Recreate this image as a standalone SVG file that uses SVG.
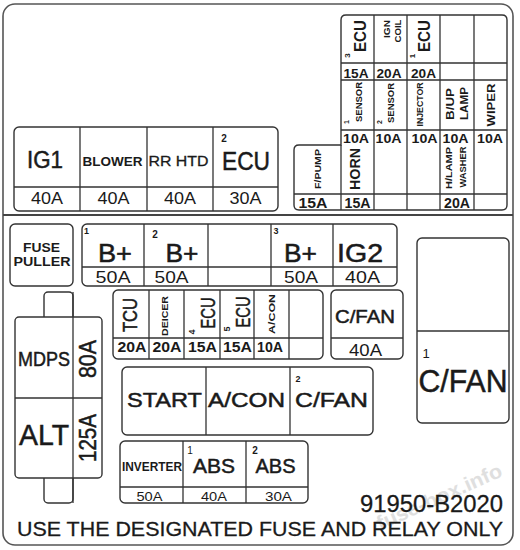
<svg xmlns="http://www.w3.org/2000/svg" width="520" height="550" viewBox="0 0 520 550">
<style>
.box{fill:#fff;stroke:#333;stroke-width:1.4}
.ln{fill:none;stroke:#333;stroke-width:1.3}
text{font-family:"Liberation Sans",Arial,sans-serif;fill:#1a1a1a}
.c{text-anchor:middle}
.b{font-weight:bold}
.h{stroke:#1a1a1a;stroke-width:0.5}
</style>
<rect x="0" y="0" width="520" height="550" fill="#fff"/>
<rect x="3" y="4" width="510" height="541" rx="12" fill="#fff" stroke="#555" stroke-width="1.6"/>
<line x1="3" y1="215" x2="513" y2="215" stroke="#444" stroke-width="2"/>

<g id="connectors"></g>

<g id="block-top-right">
<path class="box" d="M346,15 H502 Q507,15 507,20 V205 Q507,210 502,210 H299 Q294,210 294,205 V150 Q294,145 299,145 H341 V20 Q341,15 346,15 Z"/>
<path class="ln" d="M374,15V210M407,15V210M440,15V210M474,15V210M341,145V210M341,63H507M341,80H507M341,130H507M294,194H507"/>
<text class="c b" font-size="16" textLength="32" lengthAdjust="spacingAndGlyphs" transform="translate(366,36) rotate(-90)">ECU</text>
<text class="c b" font-size="8" transform="translate(350,55.5) rotate(-90)">3</text>
<text class="c b" font-size="9" textLength="18" lengthAdjust="spacingAndGlyphs" transform="translate(390,29) rotate(-90)">IGN</text>
<text class="c b" font-size="9" textLength="23" lengthAdjust="spacingAndGlyphs" transform="translate(401,31) rotate(-90)">COIL</text>
<text class="c b" font-size="16" textLength="32" lengthAdjust="spacingAndGlyphs" transform="translate(430,36) rotate(-90)">ECU</text>
<text class="c b" font-size="8" transform="translate(415,56) rotate(-90)">1</text>
<text class="c b" font-size="13.5" textLength="25" lengthAdjust="spacingAndGlyphs" x="356" y="78">15A</text>
<text class="c b" font-size="13.5" textLength="25" lengthAdjust="spacingAndGlyphs" x="389" y="78">20A</text>
<text class="c b" font-size="13.5" textLength="25" lengthAdjust="spacingAndGlyphs" x="423.5" y="78">20A</text>
<text class="c b" font-size="9" textLength="40" lengthAdjust="spacingAndGlyphs" transform="translate(362,102) rotate(-90)">SENSOR</text>
<text class="c b" font-size="7" transform="translate(349,122) rotate(-90)">1</text>
<text class="c b" font-size="9" textLength="40" lengthAdjust="spacingAndGlyphs" transform="translate(394,103) rotate(-90)">SENSOR</text>
<text class="c b" font-size="7" transform="translate(382,122) rotate(-90)">2</text>
<text class="c b" font-size="8.5" textLength="44" lengthAdjust="spacingAndGlyphs" transform="translate(423,104.5) rotate(-90)">INJECTOR</text>
<text class="c b" font-size="10" textLength="32" lengthAdjust="spacingAndGlyphs" transform="translate(454,104) rotate(-90)">B/UP</text>
<text class="c b" font-size="10" textLength="33" lengthAdjust="spacingAndGlyphs" transform="translate(468,103.5) rotate(-90)">LAMP</text>
<text class="c b" font-size="11" textLength="43" lengthAdjust="spacingAndGlyphs" transform="translate(495,105) rotate(-90)">WIPER</text>
<text class="c b" font-size="13.5" textLength="26" lengthAdjust="spacingAndGlyphs" x="356" y="142.5">10A</text>
<text class="c b" font-size="13.5" textLength="26" lengthAdjust="spacingAndGlyphs" x="388.5" y="142.5">10A</text>
<text class="c b" font-size="13.5" textLength="26" lengthAdjust="spacingAndGlyphs" x="424.5" y="142.5">10A</text>
<text class="c b" font-size="13.5" textLength="26" lengthAdjust="spacingAndGlyphs" x="455.5" y="142.5">10A</text>
<text class="c b" font-size="13.5" textLength="26" lengthAdjust="spacingAndGlyphs" x="490" y="142.5">10A</text>
<text class="c b" font-size="9" textLength="40" lengthAdjust="spacingAndGlyphs" transform="translate(321,169) rotate(-90)">F/PUMP</text>
<text class="c b" font-size="14" textLength="42" lengthAdjust="spacingAndGlyphs" transform="translate(360,169) rotate(-90)">HORN</text>
<text class="c b" font-size="8.5" textLength="42" lengthAdjust="spacingAndGlyphs" transform="translate(452,168) rotate(-90)">H/LAMP</text>
<text class="c b" font-size="8.5" textLength="41" lengthAdjust="spacingAndGlyphs" transform="translate(466,167) rotate(-90)">WASHER</text>
<text class="c b" font-size="14" textLength="29" lengthAdjust="spacingAndGlyphs" x="313" y="208">15A</text>
<text class="c b" font-size="14" textLength="26" lengthAdjust="spacingAndGlyphs" x="357.5" y="208">15A</text>
<text class="c b" font-size="14" textLength="26" lengthAdjust="spacingAndGlyphs" x="457" y="208">20A</text>
</g>

<g id="block-ig1">
<rect class="box" x="14" y="127" width="264" height="84" rx="5"/>
<path class="ln" d="M80,127V211M147,127V211M213,127V211M14,187H278"/>
<text class="c h" font-size="23" textLength="36" lengthAdjust="spacingAndGlyphs" x="45" y="168">IG1</text>
<text class="c b" font-size="12.5" textLength="60" lengthAdjust="spacingAndGlyphs" x="112.5" y="166">BLOWER</text>
<text class="c h" font-size="15" textLength="60" lengthAdjust="spacingAndGlyphs" x="178.5" y="166" style="stroke-width:0.3">RR HTD</text>
<text class="c b" font-size="10" x="224" y="142">2</text>
<text class="c h" font-size="25" textLength="48" lengthAdjust="spacingAndGlyphs" x="246" y="170">ECU</text>
<text class="c" font-size="16" textLength="32" lengthAdjust="spacingAndGlyphs" x="47" y="204">40A</text>
<text class="c" font-size="16" textLength="32" lengthAdjust="spacingAndGlyphs" x="113.5" y="204">40A</text>
<text class="c" font-size="16" textLength="32" lengthAdjust="spacingAndGlyphs" x="180" y="204">40A</text>
<text class="c" font-size="16" textLength="32" lengthAdjust="spacingAndGlyphs" x="245.5" y="204">30A</text>
</g>

<g id="fuse-puller">
<rect class="box" x="10" y="224" width="63" height="62" rx="5"/>
<text class="c b" font-size="13.5" textLength="37" lengthAdjust="spacingAndGlyphs" x="41.5" y="252">FUSE</text>
<text class="c b" font-size="13.5" textLength="57" lengthAdjust="spacingAndGlyphs" x="42" y="266">PULLER</text>
</g>

<g id="block-bplus">
<rect class="box" x="82" y="224" width="315" height="62" rx="5"/>
<path class="ln" d="M144,224V286M208,224V286M271,224V286M333,224V286M82,267H397"/>
<text class="c b" font-size="9" x="86.5" y="234">1</text>
<text class="c h" font-size="25" textLength="34" lengthAdjust="spacingAndGlyphs" x="115" y="262">B+</text>
<text class="c b" font-size="10" x="155" y="238">2</text>
<text class="c h" font-size="25" textLength="33" lengthAdjust="spacingAndGlyphs" x="182" y="262">B+</text>
<text class="c b" font-size="9" x="276" y="234">3</text>
<text class="c h" font-size="25" textLength="33" lengthAdjust="spacingAndGlyphs" x="300.5" y="262">B+</text>
<text class="c h" font-size="25" textLength="46" lengthAdjust="spacingAndGlyphs" x="360" y="262">IG2</text>
<text class="c" font-size="16" textLength="35" lengthAdjust="spacingAndGlyphs" x="113" y="282.5">50A</text>
<text class="c" font-size="16" textLength="34" lengthAdjust="spacingAndGlyphs" x="171.5" y="282.5">50A</text>
<text class="c" font-size="16" textLength="34" lengthAdjust="spacingAndGlyphs" x="301" y="282.5">50A</text>
<text class="c" font-size="16" textLength="35" lengthAdjust="spacingAndGlyphs" x="362.5" y="282.5">40A</text>
</g>

<g id="block-tcu">
<rect class="box" x="113" y="290" width="210" height="69" rx="5"/>
<path class="ln" d="M149,290V359M184,290V359M220,290V359M254,290V359M289,290V359M113,338H323"/>
<text class="c h" font-size="20" textLength="34" lengthAdjust="spacingAndGlyphs" transform="translate(137,315) rotate(-90)">TCU</text>
<text class="c b" font-size="9" textLength="40" lengthAdjust="spacingAndGlyphs" transform="translate(168,316) rotate(-90)">DEICER</text>
<text class="c b" font-size="9" transform="translate(195,332) rotate(-90)">4</text>
<text class="c h" font-size="20" textLength="31" lengthAdjust="spacingAndGlyphs" transform="translate(215,313) rotate(-90)">ECU</text>
<text class="c b" font-size="9" transform="translate(230,329) rotate(-90)">5</text>
<text class="c h" font-size="20" textLength="31" lengthAdjust="spacingAndGlyphs" transform="translate(250,312) rotate(-90)">ECU</text>
<text class="c b" font-size="9" textLength="40" lengthAdjust="spacingAndGlyphs" transform="translate(275,314) rotate(-90)">A/CON</text>
<text class="c b" font-size="14" textLength="29" lengthAdjust="spacingAndGlyphs" x="132" y="352">20A</text>
<text class="c b" font-size="14" textLength="29" lengthAdjust="spacingAndGlyphs" x="167" y="352">20A</text>
<text class="c b" font-size="14" textLength="29" lengthAdjust="spacingAndGlyphs" x="202.5" y="352">15A</text>
<text class="c b" font-size="14" textLength="29" lengthAdjust="spacingAndGlyphs" x="237.5" y="352">15A</text>
<text class="c b" font-size="14" textLength="26" lengthAdjust="spacingAndGlyphs" x="270" y="352">10A</text>
</g>

<g id="block-cfan-40a">
<rect class="box" x="331" y="290" width="72" height="69" rx="5"/>
<path class="ln" d="M331,338H403"/>
<text class="c h" font-size="19" textLength="60" lengthAdjust="spacingAndGlyphs" x="365" y="323">C/FAN</text>
<text class="c" font-size="17" textLength="33" lengthAdjust="spacingAndGlyphs" x="365.5" y="356">40A</text>
</g>

<g id="relay-cfan-1">
<rect class="box" x="417" y="238" width="92" height="185" rx="5"/>
<path class="ln" d="M417,331H509"/>
<text class="c" font-size="13" x="426" y="358">1</text>
<text class="c h" font-size="31" textLength="89" lengthAdjust="spacingAndGlyphs" x="463" y="392">C/FAN</text>
</g>

<g id="block-mdps-alt">
<rect class="box" x="44" y="292" width="29" height="30" rx="4"/>
<rect class="box" x="44" y="473" width="29" height="30" rx="4"/>
<rect class="box" x="15" y="317" width="87" height="161" rx="4"/>
<path class="ln" d="M73,292V503M15,398H102"/>
<text class="c h" font-size="20" textLength="52" lengthAdjust="spacingAndGlyphs" x="44" y="366">MDPS</text>
<text class="c h" font-size="30" textLength="50" lengthAdjust="spacingAndGlyphs" x="44" y="445">ALT</text>
<text class="c h" font-size="23" textLength="38" lengthAdjust="spacingAndGlyphs" transform="translate(96,359) rotate(-90)">80A</text>
<text class="c h" font-size="23" textLength="48" lengthAdjust="spacingAndGlyphs" transform="translate(96,438) rotate(-90)">125A</text>
</g>

<g id="block-start">
<rect class="box" x="122" y="367" width="251" height="68" rx="5"/>
<path class="ln" d="M206,367V435M290,367V435"/>
<text class="c h" font-size="21" textLength="75" lengthAdjust="spacingAndGlyphs" x="164.5" y="407">START</text>
<text class="c h" font-size="21" textLength="77" lengthAdjust="spacingAndGlyphs" x="246.5" y="407">A/CON</text>
<text class="c b" font-size="9" x="298" y="382">2</text>
<text class="c h" font-size="21" textLength="73" lengthAdjust="spacingAndGlyphs" x="331.5" y="407">C/FAN</text>
</g>

<g id="block-inverter">
<rect class="box" x="120" y="441" width="188" height="62" rx="5"/>
<path class="ln" d="M183,441V503M246,441V503M120,487H308"/>
<text class="c b" font-size="12" textLength="60" lengthAdjust="spacingAndGlyphs" x="152" y="471">INVERTER</text>
<text class="c" font-size="10" x="190" y="454">1</text>
<text class="c h" font-size="21" textLength="42" lengthAdjust="spacingAndGlyphs" x="214" y="473">ABS</text>
<text class="c b" font-size="10" x="255" y="454">2</text>
<text class="c h" font-size="21" textLength="40" lengthAdjust="spacingAndGlyphs" x="275.5" y="473">ABS</text>
<text class="c" font-size="13" textLength="26" lengthAdjust="spacingAndGlyphs" x="149.5" y="501">50A</text>
<text class="c" font-size="13" textLength="26" lengthAdjust="spacingAndGlyphs" x="214" y="501">40A</text>
<text class="c" font-size="13" textLength="27" lengthAdjust="spacingAndGlyphs" x="278.5" y="501">30A</text>
</g>

<g id="footer">
<text class="b" font-size="20" style="fill:#d8d8d8" opacity="0.8" text-anchor="middle" textLength="135" lengthAdjust="spacingAndGlyphs" transform="translate(442,503) rotate(-24)">fuse-box.info</text>
<text class="h" font-size="24" text-anchor="end" textLength="143" lengthAdjust="spacingAndGlyphs" x="503" y="512" style="stroke-width:0.3">91950-B2020</text>
<text class="h" font-size="21" textLength="486" lengthAdjust="spacingAndGlyphs" x="17" y="536" style="stroke-width:0.3">USE THE DESIGNATED FUSE AND RELAY ONLY</text>
</g>
</svg>
